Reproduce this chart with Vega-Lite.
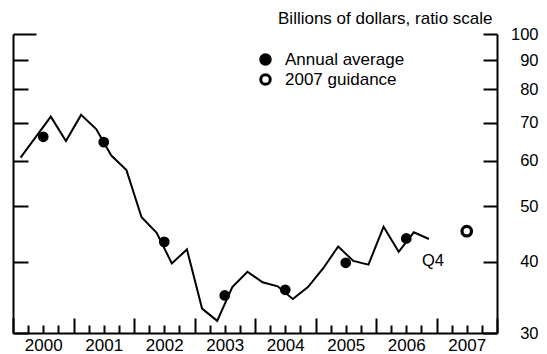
{
  "$schema": "https://vega.github.io/schema/vega-lite/v6.json",
  "width": 484,
  "height": 299,
  "autosize": "none",
  "padding": {"left": 13, "top": 34, "right": 50, "bottom": 21},
  "background": "white",
  "config": {
    "view": {"stroke": null},
    "font": "Liberation Sans",
    "axis": {
      "grid": false,
      "domainColor": "black",
      "domainWidth": 2,
      "tickColor": "black",
      "tickWidth": 2,
      "labelColor": "black",
      "titleColor": "black",
      "labelFont": "Liberation Sans",
      "titleFont": "Liberation Sans"
    }
  },
  "datasets": {
    "quarterly": [
      {"period": 2000.125, "value": 60.8},
      {"period": 2000.375, "value": 66.0},
      {"period": 2000.625, "value": 71.7},
      {"period": 2000.875, "value": 65.0},
      {"period": 2001.125, "value": 72.2},
      {"period": 2001.375, "value": 68.2},
      {"period": 2001.625, "value": 61.3},
      {"period": 2001.875, "value": 57.8},
      {"period": 2002.125, "value": 47.8},
      {"period": 2002.375, "value": 44.9},
      {"period": 2002.625, "value": 39.7},
      {"period": 2002.875, "value": 42.0},
      {"period": 2003.125, "value": 33.1},
      {"period": 2003.375, "value": 31.5},
      {"period": 2003.625, "value": 36.1},
      {"period": 2003.875, "value": 38.4},
      {"period": 2004.125, "value": 36.8},
      {"period": 2004.375, "value": 36.2},
      {"period": 2004.625, "value": 34.4},
      {"period": 2004.875, "value": 36.1},
      {"period": 2005.125, "value": 38.9},
      {"period": 2005.375, "value": 42.5},
      {"period": 2005.625, "value": 40.1},
      {"period": 2005.875, "value": 39.5},
      {"period": 2006.125, "value": 46.0},
      {"period": 2006.375, "value": 41.6},
      {"period": 2006.625, "value": 45.0},
      {"period": 2006.875, "value": 43.8}
    ],
    "annual": [
      {"period": 2000.5, "value": 66.1, "kind": "Annual average"},
      {"period": 2001.5, "value": 64.7, "kind": "Annual average"},
      {"period": 2002.5, "value": 43.3, "kind": "Annual average"},
      {"period": 2003.5, "value": 34.9, "kind": "Annual average"},
      {"period": 2004.5, "value": 35.7, "kind": "Annual average"},
      {"period": 2005.5, "value": 39.8, "kind": "Annual average"},
      {"period": 2006.5, "value": 43.9, "kind": "Annual average"}
    ],
    "guidance": [
      {"period": 2007.5, "value": 45.2, "kind": "2007 guidance"}
    ]
  },
  "layer": [
    {
      "data": {"name": "quarterly"},
      "mark": {"type": "line", "color": "black", "strokeWidth": 2},
      "encoding": {
        "x": {
          "field": "period",
          "type": "quantitative",
          "scale": {"domain": [2000, 2008], "nice": false, "zero": false},
          "axis": {
            "orient": "bottom",
            "title": null,
            "values": [2000.5, 2001.5, 2002.5, 2003.5, 2004.5, 2005.5, 2006.5, 2007.5],
            "labelExpr": "floor(datum.value)",
            "ticks": false,
            "labelPadding": 4,
            "labelFontSize": 17,
            "labelBaseline": "top"
          }
        },
        "y": {
          "field": "value",
          "type": "quantitative",
          "scale": {"type": "log", "domain": [30, 100], "nice": false, "zero": false},
          "axis": {
            "orient": "right",
            "values": [30, 40, 50, 60, 70, 80, 90, 100],
            "tickSize": -14,
            "labelPadding": 55,
            "labelAlign": "right",
            "labelBaseline": "middle",
            "labelFontSize": 16.5,
            "title": "Billions of dollars, ratio scale",
            "titleAngle": 0,
            "titleAlign": "right",
            "titleBaseline": "alphabetic",
            "titleX": -5,
            "titleY": -11,
            "titleFontSize": 17,
            "titleFontWeight": "normal"
          }
        }
      }
    },
    {
      "data": {"name": "annual"},
      "mark": {"type": "point", "shape": "circle", "filled": true, "size": 60, "stroke": "black", "strokeWidth": 3, "opacity": 1},
      "encoding": {
        "x": {
          "field": "period",
          "type": "quantitative",
          "axis": {
            "orient": "bottom",
            "title": null,
            "values": [2000, 2001, 2002, 2003, 2004, 2005, 2006, 2007, 2008],
            "labels": false,
            "domain": false,
            "tickSize": -15
          }
        },
        "y": {
          "field": "value",
          "type": "quantitative",
          "axis": {
            "orient": "left",
            "title": null,
            "values": [30, 40, 50, 60, 70, 80, 90],
            "labels": false,
            "tickSize": -15
          }
        },
        "fill": {
          "field": "kind",
          "type": "nominal",
          "scale": {"domain": ["Annual average", "2007 guidance"], "range": ["black", "white"]},
          "legend": {
            "orient": "none",
            "legendX": 244,
            "legendY": 17,
            "title": null,
            "padding": 0,
            "symbolType": "circle",
            "symbolSize": 90,
            "symbolStrokeColor": "black",
            "symbolStrokeWidth": 3,
            "symbolOpacity": 1,
            "labelFontSize": 17,
            "labelColor": "black",
            "labelFont": "Liberation Sans",
            "labelOffset": 11,
            "rowPadding": -4
          }
        }
      }
    },
    {
      "data": {"name": "guidance"},
      "mark": {"type": "point", "shape": "circle", "filled": true, "size": 90, "stroke": "black", "strokeWidth": 3.2, "opacity": 1},
      "encoding": {
        "x": {"field": "period", "type": "quantitative", "axis": null},
        "y": {"field": "value", "type": "quantitative", "axis": null},
        "fill": {"field": "kind", "type": "nominal"}
      }
    },
    {
      "data": {"name": "quarterly"},
      "transform": [{"filter": "datum.period == 2006.875"}],
      "mark": {"type": "text", "text": "Q4", "fontSize": 16.5, "color": "black", "align": "center", "baseline": "middle", "dx": 4, "dy": 22},
      "encoding": {
        "x": {
          "field": "period",
          "type": "quantitative",
          "axis": {
            "orient": "bottom",
            "title": null,
            "values": [2000.25, 2000.5, 2000.75, 2001.25, 2001.5, 2001.75, 2002.25, 2002.5, 2002.75, 2003.25, 2003.5, 2003.75, 2004.25, 2004.5, 2004.75, 2005.25, 2005.5, 2005.75, 2006.25, 2006.5, 2006.75, 2007.25, 2007.5, 2007.75],
            "labels": false,
            "domain": false,
            "tickSize": -8
          }
        },
        "y": {
          "field": "value",
          "type": "quantitative",
          "axis": {
            "orient": "left",
            "title": null,
            "values": [100],
            "labels": false,
            "domain": false,
            "tickSize": -23
          }
        }
      }
    }
  ],
  "resolve": {"axis": {"x": "independent", "y": "independent"}}
}
